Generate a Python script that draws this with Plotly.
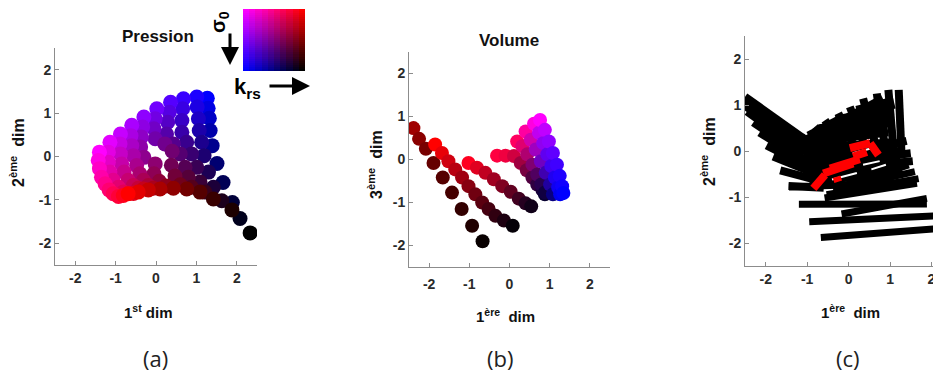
import numpy as np
import plotly.graph_objects as go

# la page ajoute une marge de 8 px autour de la figure
OFF = 8
W, H = 941 - OFF, 378 - OFF

# ---- (a) Pression : une colonne par niveau de sigma0, krs croissant vers le bas
a_x = [
    [-1.40, -1.43, -1.40, -1.35, -1.26, -1.16, -1.06, -0.93, -0.81, -0.69],
    [-1.14, -1.18, -1.18, -1.14, -1.06, -0.93, -0.81, -0.69, -0.56, -0.44],
    [-0.88, -0.89, -0.88, -0.85, -0.79, -0.69, -0.56, -0.44, -0.31, -0.19],
    [-0.60, -0.62, -0.60, -0.56, -0.48, -0.40, -0.31, -0.19, -0.07, 0.10],
    [-0.30, -0.33, -0.36, -0.38, -0.30, -0.02, -0.05, 0.08, 0.25, 0.43],
    [0.02, -0.02, -0.05, -0.02, 0.22, 0.40, 0.38, 0.47, 0.60, 0.76],
    [0.36, 0.33, 0.29, 0.26, 0.43, 0.60, 0.72, 0.80, 0.88, 1.09],
    [0.68, 0.66, 0.64, 0.64, 0.76, 0.88, 1.01, 1.09, 1.21, 1.42],
    [1.01, 1.02, 1.05, 1.07, 1.13, 1.19, 1.30, 1.42, 1.63, 1.88],
    [1.27, 1.29, 1.32, 1.34, 1.39, 1.51, 1.66, 1.89, 2.08, 2.33],
]
a_y = [
    [0.10, -0.09, -0.28, -0.48, -0.63, -0.77, -0.86, -0.92, -0.90, -0.86],
    [0.33, 0.10, -0.13, -0.36, -0.55, -0.71, -0.82, -0.85, -0.85, -0.82],
    [0.52, 0.29, 0.06, -0.17, -0.36, -0.55, -0.67, -0.73, -0.75, -0.77],
    [0.72, 0.48, 0.25, 0.02, -0.21, -0.40, -0.55, -0.67, -0.73, -0.75],
    [0.91, 0.68, 0.45, 0.22, -0.02, -0.17, -0.40, -0.57, -0.68, -0.73],
    [1.10, 0.87, 0.64, 0.41, 0.29, 0.12, -0.20, -0.45, -0.65, -0.75],
    [1.25, 1.02, 0.79, 0.52, 0.29, 0.06, -0.25, -0.48, -0.71, -0.82],
    [1.33, 1.10, 0.83, 0.56, 0.33, 0.06, -0.25, -0.59, -0.82, -0.98],
    [1.37, 1.14, 0.87, 0.60, 0.33, 0.02, -0.36, -0.71, -1.02, -1.23],
    [1.34, 1.11, 0.88, 0.60, 0.25, -0.16, -0.60, -1.06, -1.43, -1.76],
]
sigma_levels = [0, 1, 2, 3, 4, 5, 6, 7, 8, 9]
krs_levels = [0, 1, 2, 3, 4, 5, 6, 7, 8, 9]

# ---- (b) Volume
b_x = [
    [-2.39, -2.25, -2.08, -1.89, -1.66, -1.43, -1.19, -0.93, -0.67],
    [-1.85, -1.68, -1.52, -1.35, -1.18, -1.02, -0.85, -0.68, -0.52, -0.35, -0.14, 0.08],
    [-1.02, -0.81, -0.60, -0.39, -0.18, 0.03, 0.23, 0.40, 0.54],
    [-0.31, -0.10, 0.11, 0.28, 0.43, 0.57, 0.69, 0.82, 0.88],
    [0.19, 0.32, 0.44, 0.57, 0.69, 0.79, 0.88],
    [0.40, 0.53, 0.65, 0.78, 0.90, 1.01, 1.08],
    [0.61, 0.73, 0.84, 0.94, 1.04, 1.13, 1.21, 1.26],
    [0.76, 0.88, 0.98, 1.08, 1.18, 1.25, 1.31, 1.34],
]
b_y = [
    [0.73, 0.48, 0.25, -0.08, -0.42, -0.77, -1.15, -1.54, -1.90],
    [0.35, 0.15, -0.04, -0.23, -0.42, -0.62, -0.81, -1.00, -1.15, -1.31, -1.42, -1.54],
    [-0.08, -0.19, -0.31, -0.46, -0.62, -0.75, -0.91, -1.02, -1.09],
    [0.09, 0.09, 0.08, -0.08, -0.25, -0.42, -0.58, -0.71, -0.81],
    [0.42, 0.31, 0.12, -0.12, -0.35, -0.58, -0.77],
    [0.65, 0.46, 0.23, -0.04, -0.31, -0.58, -0.81],
    [0.83, 0.62, 0.38, 0.12, -0.15, -0.42, -0.65, -0.81],
    [0.92, 0.69, 0.42, 0.15, -0.12, -0.38, -0.62, -0.78],
]
b_col = [
    ["#a00000", "#8a0000", "#780000", "#650000", "#550000", "#450000", "#330000", "#200000", "#080000"],
    ["#ff0000", "#e80008", "#d00010", "#b80010", "#a00010", "#880010", "#700010", "#5a0010",
     "#450010", "#300010", "#1c0010", "#050008"],
    ["#ff0020", "#e00020", "#c00020", "#a00020", "#800020", "#600020", "#400020", "#250020", "#100018"],
    ["#ff0040", "#f00040", "#d00040", "#a00040", "#780040", "#500040", "#300040", "#180038", "#080030"],
    ["#ff0060", "#e00070", "#b00070", "#800070", "#500060", "#280050", "#100040"],
    ["#ff00a0", "#d000b0", "#a000c0", "#7000c0", "#4000b0", "#2000a0", "#080080"],
    ["#ff00e0", "#c000f0", "#9000f0", "#6000f0", "#4000f0", "#2000f0", "#1000f0", "#0000f0"],
    ["#ff00ff", "#c000ff", "#9000ff", "#6000ff", "#4000ff", "#2000ff", "#1000ff", "#0000ff"],
]

# ---- (c) segments (x0, y0, x1, y1)
c_fan = [
    (-2.50, 1.18, -1.10, 0.28), (-2.50, 1.08, -1.10, 0.18), (-2.50, 0.98, -1.10, 0.08),
    (-2.45, 0.86, -1.10, -0.02), (-2.30, 0.62, -1.10, -0.10), (-2.15, 0.40, -1.08, -0.20),
    (-1.98, 0.12, -1.05, -0.30), (-1.82, -0.12, -1.00, -0.42), (-1.65, -0.42, -0.90, -0.60),
    (-1.45, -0.76, -0.60, -0.80),
    (-1.14, 0.31, -0.20, -0.35), (-0.81, 0.53, 0.00, -0.35), (-0.57, 0.67, 0.15, -0.30),
    (-0.25, 0.82, 0.35, -0.30), (0.03, 0.96, 0.55, -0.25), (0.35, 1.14, 0.75, -0.20),
    (0.68, 1.25, 0.92, -0.15), (0.96, 1.33, 1.10, -0.13), (1.21, 1.33, 1.28, -0.13),
    (0.60, 0.05, 1.40, 0.22), (0.60, -0.15, 1.50, -0.05), (0.60, -0.30, 1.55, -0.22),
]
c_fill = [
    (-1.10, 0.20, 0.95, 0.45), (-1.10, 0.00, 1.15, 0.15), (-1.10, -0.20, 1.20, -0.05),
    (-1.05, -0.40, 1.25, -0.25), (-0.95, -0.60, 1.30, -0.45), (-0.70, 0.45, 1.00, 0.65),
    (-0.30, 0.65, 1.05, 0.85), (0.20, 0.85, 1.10, 1.05),
    (-1.02, 0.20, 0.85, 1.10), (-0.85, 0.10, 1.00, 0.98), (-0.95, 0.30, -0.10, 0.70),
]
c_bars = [
    (-0.67, -1.88, 2.60, -1.66), (-0.95, -1.54, 2.11, -1.41), (-1.20, -1.16, 1.89, -1.15),
    (-0.17, -1.37, 1.89, -1.03), (-0.58, -1.02, 1.65, -0.70), (-1.44, -0.78, 1.36, -0.69),
    (-0.53, -0.95, 1.69, -0.60), (-0.37, -0.85, 1.60, -0.45), (-0.10, -0.75, 1.45, -0.30),
]
c_white = [
    (0.10, -0.05, 0.65, 0.08), (0.35, -0.30, 0.75, -0.22), (0.55, -0.40, 0.90, -0.30),
    (-0.40, -0.62, 0.20, -0.48),
]
c_red = [
    (-0.85, -0.81, -0.57, -0.52), (-0.61, -0.49, 0.11, -0.27), (-0.45, -0.38, 0.27, -0.18),
    (0.03, 0.06, 0.52, 0.17), (0.52, 0.17, 0.72, -0.09), (0.11, -0.12, 0.44, -0.02),
    (-0.29, -0.56, -0.25, -0.67),
]

ticks = [-2, -1, 0, 1, 2]
tick_text = ["-2", "-1", "0", "1", "2"]


def key_rgb(s, k):
    # carte 2D : sigma0 eteint le rouge, krs eteint le bleu
    return "rgb(%d,0,%d)" % (round(255 * (1 - s / 9)), round(255 * (1 - k / 9)))


def segs(lst):
    xs, ys = [], []
    for x0, y0, x1, y1 in lst:
        xs += [x0, x1, None]
        ys += [y0, y1, None]
    return xs, ys


fig = go.Figure()

for i in reversed(range(len(a_x))):
    fig.add_trace(go.Scatter(
        x=a_x[i], y=a_y[i], mode="markers", xaxis="x", yaxis="y",
        marker=dict(size=15, color=[key_rgb(sigma_levels[i], k) for k in krs_levels], line=dict(width=0)),
    ))

for i in range(len(b_x)):
    fig.add_trace(go.Scatter(
        x=b_x[i], y=b_y[i], mode="markers", xaxis="x2", yaxis="y2",
        marker=dict(size=14, color=b_col[i], line=dict(width=0)),
    ))

for lst, col, wd in [(c_fill, "black", 12), (c_fan, "black", 8), (c_bars, "black", 7),
                     (c_white, "white", 2), (c_red, "#ff0000", 8)]:
    xs, ys = segs(lst)
    fig.add_trace(go.Scatter(x=xs, y=ys, mode="lines", xaxis="x3", yaxis="y3",
                             line=dict(color=col, width=wd)))

# clef de couleur
key = np.zeros((30, 10, 3))
for r in range(30):
    for c in range(10):
        key[r, c] = [255 * (1 - r / 29), 0, 255 * (1 - c / 9)]
fig.add_trace(go.Image(z=key, dx=1, dy=1 / 3, xaxis="x4", yaxis="y4", hoverinfo="skip"))


def px(v):
    return (v - OFF) / W


def py(v):
    return 1 - (v - OFF) / H


axis_common = dict(
    showline=True, linecolor="#8c8c8c", linewidth=1, ticks="inside", ticklen=4, tickcolor="#8c8c8c",
    showgrid=False, zeroline=False, tickvals=ticks, ticktext=tick_text,
    tickfont=dict(family="Liberation Sans", size=14, color="#2a2a2a", weight="bold"),
)

fig.update_layout(
    width=W, height=H, margin=dict(l=0, r=0, t=0, b=0),
    paper_bgcolor="white", plot_bgcolor="white", showlegend=False,
    xaxis=dict(axis_common, domain=[px(55), px(257)], range=[-2.5, 2.5], anchor="y"),
    yaxis=dict(axis_common, domain=[py(265), py(48)], range=[-2.5, 2.5], anchor="x"),
    xaxis2=dict(axis_common, domain=[px(409), px(610)], range=[-2.5, 2.5], anchor="y2", ticklabelstandoff=4),
    yaxis2=dict(axis_common, domain=[py(267), py(52)], range=[-2.5, 2.5], anchor="x2"),
    xaxis3=dict(axis_common, domain=[px(745), 1.0], range=[-2.5, 2.23], anchor="y3"),
    yaxis3=dict(axis_common, domain=[py(266), py(36)], range=[-2.5, 2.5], anchor="x3"),
    xaxis4=dict(domain=[px(243), px(305)], range=[-0.5, 9.5], visible=False, anchor="y4"),
    yaxis4=dict(domain=[py(71), py(9)], range=[9.8333, -0.1667], visible=False, anchor="x4"),
)

bold = dict(family="Liberation Sans", color="#111111", weight="bold")
ann = [
    dict(text="Pression", x=px(158), y=py(36), font=dict(bold, size=17)),
    dict(text="Volume", x=px(509), y=py(40), font=dict(bold, size=17)),
    dict(text="2<sup>ème</sup>  dim", x=px(17), y=py(153), textangle=-90, font=dict(bold, size=16)),
    dict(text="3<sup>ème</sup>  dim", x=px(375), y=py(165), textangle=-90, font=dict(bold, size=16)),
    dict(text="2<sup>ème</sup>  dim", x=px(708), y=py(152), textangle=-90, font=dict(bold, size=16)),
    dict(text="1<sup>st</sup> dim", x=px(148), y=py(311), font=dict(bold, size=15)),
    dict(text="1<sup>ère</sup>  dim", x=px(505), y=py(315), font=dict(bold, size=15)),
    dict(text="1<sup>ère</sup>  dim", x=px(850), y=py(311), font=dict(bold, size=15)),
    dict(text="(a)", x=px(155), y=py(358), font=dict(family="Open Sans", size=22, color="#222222")),
    dict(text="(b)", x=px(500), y=py(358), font=dict(family="Open Sans", size=22, color="#222222")),
    dict(text="(c)", x=px(848), y=py(358), font=dict(family="Open Sans", size=22, color="#222222")),
    dict(text="σ<sub>0</sub>", x=px(219), y=py(22), textangle=-90, font=dict(bold, size=20, color="black")),
    dict(text="k<sub>rs</sub>", x=px(248), y=py(88), font=dict(bold, size=22, color="black")),
]
for a in ann:
    a.update(xref="paper", yref="paper", showarrow=False, xanchor="center", yanchor="middle")
    fig.add_annotation(**a)

# fleches de la clef
fig.add_annotation(x=px(230), y=py(65), ax=0, ay=-33, xref="paper", yref="paper", text="",
                   showarrow=True, arrowhead=2, arrowsize=1.2, arrowwidth=3, arrowcolor="black")
fig.add_annotation(x=px(310), y=py(86), ax=-42, ay=0, xref="paper", yref="paper", text="",
                   showarrow=True, arrowhead=2, arrowsize=1.2, arrowwidth=3, arrowcolor="black")

fig.write_html("out.html")
